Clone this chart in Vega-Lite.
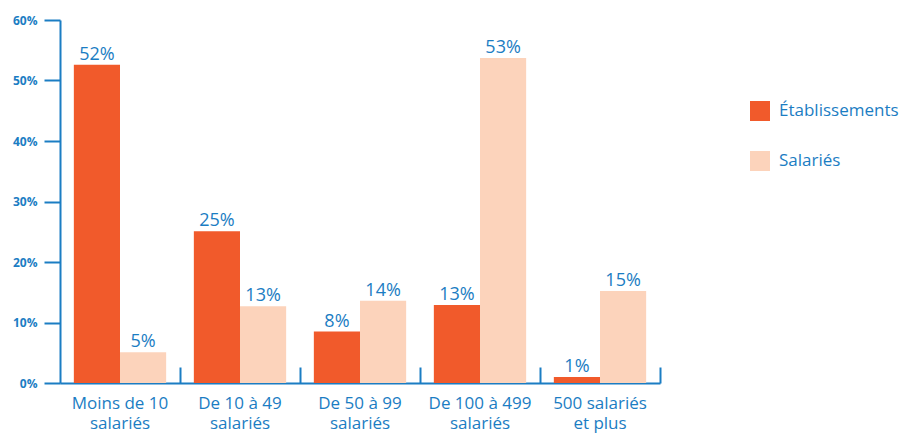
{
  "$schema": "https://vega.github.io/schema/vega-lite/v6.json",
  "width": 600,
  "height": 363,
  "padding": {"left": 12, "top": 14, "right": 5, "bottom": 5},
  "background": "white",
  "config": {
    "font": "Open Sans",
    "view": {"stroke": null}
  },
  "data": {
    "values": [
      {"taille": "Moins de 10 salariés", "serie": "Établissements", "valeur": 52.6, "etiquette": "52%"},
      {"taille": "Moins de 10 salariés", "serie": "Salariés", "valeur": 5.1, "etiquette": "5%"},
      {"taille": "De 10 à 49 salariés", "serie": "Établissements", "valeur": 25.1, "etiquette": "25%"},
      {"taille": "De 10 à 49 salariés", "serie": "Salariés", "valeur": 12.7, "etiquette": "13%"},
      {"taille": "De 50 à 99 salariés", "serie": "Établissements", "valeur": 8.5, "etiquette": "8%"},
      {"taille": "De 50 à 99 salariés", "serie": "Salariés", "valeur": 13.6, "etiquette": "14%"},
      {"taille": "De 100 à 499 salariés", "serie": "Établissements", "valeur": 12.9, "etiquette": "13%"},
      {"taille": "De 100 à 499 salariés", "serie": "Salariés", "valeur": 53.7, "etiquette": "53%"},
      {"taille": "500 salariés et plus", "serie": "Établissements", "valeur": 1.0, "etiquette": "1%"},
      {"taille": "500 salariés et plus", "serie": "Salariés", "valeur": 15.2, "etiquette": "15%"}
    ]
  },
  "encoding": {
    "x": {
      "field": "taille",
      "type": "nominal",
      "sort": null,
      "scale": {"paddingInner": 0, "paddingOuter": 0},
      "axis": {
        "title": null,
        "labelAngle": 0,
        "bandPosition": 1,
        "domainColor": "#1b7dc3",
        "domainWidth": 2,
        "tickColor": "#1b7dc3",
        "tickWidth": 2,
        "tickSize": -16,
        "labelPadding": 28,
        "labelColor": "#1b7dc3",
        "labelFontSize": 17,
        "labelLineHeight": 20,
        "labelExpr": "datum.label == 'Moins de 10 salariés' ? ['Moins de 10', 'salariés'] : datum.label == 'De 10 à 49 salariés' ? ['De 10 à 49', 'salariés'] : datum.label == 'De 50 à 99 salariés' ? ['De 50 à 99', 'salariés'] : datum.label == 'De 100 à 499 salariés' ? ['De 100 à 499', 'salariés'] : ['500 salariés', 'et plus']"
      }
    },
    "xOffset": {
      "field": "serie",
      "type": "nominal",
      "sort": ["Établissements", "Salariés"],
      "scale": {"paddingInner": 0, "paddingOuter": 0.3}
    },
    "y": {
      "field": "valeur",
      "type": "quantitative",
      "scale": {"domain": [0, 60]},
      "axis": {
        "title": null,
        "values": [0, 10, 20, 30, 40, 50, 60],
        "labelExpr": "datum.value + '%'",
        "grid": false,
        "domainColor": "#1b7dc3",
        "domainWidth": 2,
        "tickColor": "#1b7dc3",
        "tickWidth": 2,
        "tickSize": 16,
        "labelPadding": 7,
        "labelColor": "#1b7dc3",
        "labelFontSize": 12,
        "labelFontWeight": "bold"
      }
    }
  },
  "layer": [
    {
      "mark": {"type": "bar"},
      "encoding": {
        "color": {
          "field": "serie",
          "type": "nominal",
          "sort": ["Établissements", "Salariés"],
          "scale": {"domain": ["Établissements", "Salariés"], "range": ["#f15a2b", "#fcd3bb"]},
          "legend": {
            "title": null,
            "orient": "none",
            "legendX": 690,
            "legendY": 81,
            "padding": 0,
            "symbolType": "square",
            "symbolSize": 400,
            "symbolStrokeWidth": 0,
            "labelFontSize": 17,
            "labelColor": "#1b7dc3",
            "labelOffset": 9,
            "rowPadding": 30
          }
        }
      }
    },
    {
      "mark": {"type": "text", "baseline": "alphabetic", "dy": -5, "fontSize": 18, "color": "#1b7dc3"},
      "encoding": {
        "text": {"field": "etiquette", "type": "nominal"}
      }
    }
  ]
}
